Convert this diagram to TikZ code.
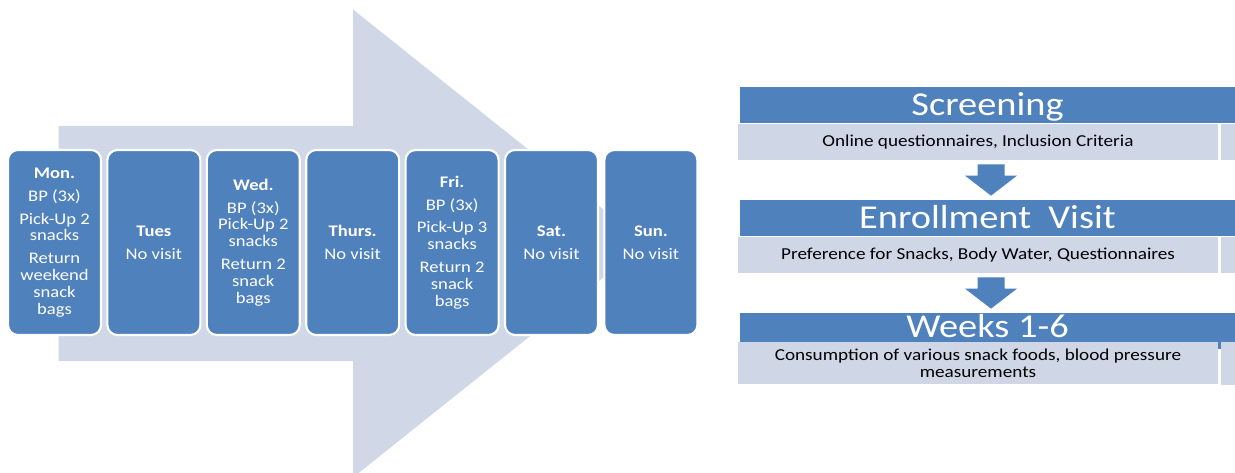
\documentclass[tikz,border=0pt]{standalone}
\usepackage{fontspec}
\setmainfont{Carlito}[FakeStretch=1.15]
\usetikzlibrary{calc}
\definecolor{dayblue}{HTML}{4F81BD}
\definecolor{paleblue}{HTML}{D0D8E8}
\definecolor{barblue}{HTML}{CFD7E7}

% block arrow pointing down, from bottom of one bar to top of the next
\newcommand{\blockdown}[2]{%
  \fill[dayblue] ($(#1)+(-13.5,4)$) -- ($(#1)+(13.5,4)$) -- ($(#2)+(13.5,-24)$)
    -- ($(#2)+(26,-24)$) -- ($(#2)+(0,-4)$) -- ($(#2)+(-26,-24)$)
    -- ($(#2)+(-13.5,-24)$) -- cycle;}

\begin{document}
\begin{tikzpicture}[x=0.02cm,y=-0.02cm,
    day/.style={rectangle,rounded corners=0.2cm,fill=dayblue,draw=white,line width=1.2pt,
        minimum width=1.86cm,minimum height=3.7cm,text=white,align=center,
        font=\fontsize{9.2}{9.6}\selectfont},
    title/.style={fill=dayblue,text=white,minimum width=9.9cm,minimum height=0.72cm,
        inner sep=0pt,text height=0.5cm,text depth=0.06cm,font=\fontsize{19}{20}\selectfont},
    info/.style={fill=barblue,minimum width=9.6cm,minimum height=0.72cm,inner sep=0pt,
        align=center,font=\fontsize{9.5}{9.7}\selectfont}]

    \clip (0,0) rectangle (1235,473);
    \fill[white] (0,0) rectangle (1235,473);

    % the big arrow behind the week
    \fill[paleblue] (58.5,126) -- (353,126) -- (353,9.5) -- (646,243.5) -- (353,477.5)
        -- (353,361) -- (58.5,361) -- cycle;

    \node[day] (mon) at (54.5,242.5) {\textbf{Mon.}\\[0.12cm]BP (3x)\\[0.12cm]Pick-Up 2\\snacks\\[0.12cm]Return\\weekend\\snack\\bags};
    \node[day] (tues) at (153.9,242.5) {\textbf{Tues}\\[0.12cm]No visit};
    \node[day] (wed) at (253.3,242.5) {\textbf{Wed.}\\[0.12cm]BP (3x)\\Pick-Up 2\\snacks\\[0.12cm]Return 2\\snack\\bags};
    \node[day] (thurs) at (352.7,242.5) {\textbf{Thurs.}\\[0.12cm]No visit};
    \node[day] (fri) at (452.1,242.5) {\textbf{Fri.}\\[0.12cm]BP (3x)\\[0.12cm]Pick-Up 3\\snacks\\[0.12cm]Return 2\\snack\\bags};
    \node[day] (sat) at (551.5,242.5) {\textbf{Sat.}\\[0.12cm]No visit};
    \node[day] (sun) at (650.9,242.5) {\textbf{Sun.}\\[0.12cm]No visit};

    % study timeline
    \node[title] (scr) at (987.5,105) {Screening};
    \node[info] (scrinfo) at (978,142) {Online questionnaires, Inclusion Criteria};
    \fill[barblue] (1221,124) rectangle (1235,160);

    \node[title] (enr) at (987.5,218) {Enrollment~~Visit};
    \node[info] (enrinfo) at (978,255) {Preference for Snacks, Body Water, Questionnaires};
    \fill[barblue] (1221,237) rectangle (1235,273);

    \node[title,text height=0.45cm,text depth=0.17cm] (wks) at (987.5,331) {Weeks 1-6};
    \node[info,minimum height=0.86cm] (wksinfo) at (978,363) {Consumption of various snack foods, blood pressure\\measurements};
    \fill[barblue] (1221,341.5) rectangle (1235,384.5);

    \coordinate (axis) at (991,0);
    \coordinate (a1s) at (scrinfo.south -| axis);
    \coordinate (a1e) at (enr.north -| axis);
    \coordinate (a2s) at (enrinfo.south -| axis);
    \coordinate (a2e) at (wks.north -| axis);
    \blockdown{a1s}{a1e}
    \blockdown{a2s}{a2e}

\end{tikzpicture}
\end{document}
